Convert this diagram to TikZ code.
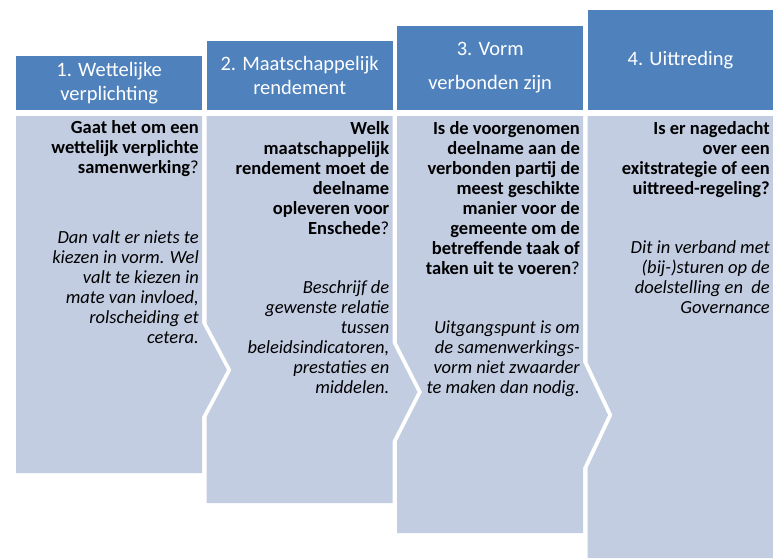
\documentclass[tikz,border=0pt]{standalone}
\usepackage{fontspec}
\setmainfont{Carlito}
\definecolor{headBlue}{HTML}{4F81BD}
\definecolor{bodyBlue}{HTML}{C3CDE2}
\tikzset{
  headbox/.style={fill=headBlue, text=white, inner sep=0, anchor=south west, minimum width=186pt, align=center, font=\fontsize{20.5}{24}\selectfont},
  bodyfill/.style={fill=bodyBlue},
  asktext/.style={anchor=base east, inner sep=0, align=right, font=\bfseries\fontsize{18.5}{20}\selectfont},
  hinttext/.style={asktext, font=\itshape\fontsize{18.5}{20}\selectfont}
}
\begin{document}
\begin{tikzpicture}[x=1pt, y=-1pt]
  \useasboundingbox (0,0) rectangle (773,558);
  \node[headbox, minimum height=54pt] (head1) at (16,110) {1. Wettelijke\\verplichting};
  \node[headbox, minimum height=69pt] (head2) at (206.5,110) {2. Maatschappelijk\\rendement};
  \node[headbox, minimum height=84pt] (head3) at (397,110) {3. Vorm\\[10pt]verbonden zijn};
  \node[headbox, minimum height=100pt, minimum width=185.5pt] (head4) at (587.5,110) {4. Uittreding};
  \fill[bodyfill] (16,116) -- (202,116) -- (202,323) -- (227,370) -- (202,417) -- (202,473) -- (16,473) -- cycle;
  \fill[bodyfill] (206.5,116) -- (392.5,116) -- (392.5,343) -- (417.5,392) -- (392.5,441) -- (392.5,503) -- (206.5,503) -- (206.5,417) -- (231.5,370) -- (206.5,323) -- cycle;
  \fill[bodyfill] (397,116) -- (583,116) -- (583,362) -- (608,415) -- (583,468) -- (583,533) -- (397,533) -- (397,441) -- (422,392) -- (397,343) -- cycle;
  \fill[bodyfill] (587.5,116) -- (773,116) -- (773,558) -- (587.5,558) -- (587.5,468) -- (612.5,415) -- (587.5,362) -- cycle;
  % base anchor sits on the last line
  \node[asktext] (ask1) at (199,173) {Gaat het om een\\wettelijk verplichte\\samenwerking{\mdseries ?}};
  \node[hinttext] (hint1) at (199,343) {Dan valt er niets te\\kiezen in vorm. Wel\\valt te kiezen in\\mate van invloed,\\rolscheiding et\\cetera.};
  \node[asktext] (ask2) at (389.5,234) {Welk\\maatschappelijk\\rendement moet de\\deelname\\opleveren voor\\Enschede{\mdseries ?}};
  \node[hinttext] (hint2) at (389.5,393) {Beschrijf de\\gewenste relatie\\tussen\\beleidsindicatoren,\\prestaties en\\middelen.};
  \node[asktext] (ask3) at (580,274) {Is de voorgenomen\\deelname aan de\\verbonden partij de\\meest geschikte\\manier voor de\\gemeente om de\\betreffende taak of\\taken uit te voeren{\mdseries ?}};
  \node[hinttext] (hint3) at (580,393) {Uitgangspunt is om\\de samenwerkings-\\vorm niet zwaarder\\te maken dan nodig.};
  \node[asktext] (ask4) at (770,194) {Is er nagedacht\\over een\\exitstrategie of een\\uittreed-regeling?};
  \node[hinttext] (hint4) at (770,313) {Dit in verband met\\(bij-)sturen op de\\doelstelling en\ \ de\\Governance};
\end{tikzpicture}
\end{document}
